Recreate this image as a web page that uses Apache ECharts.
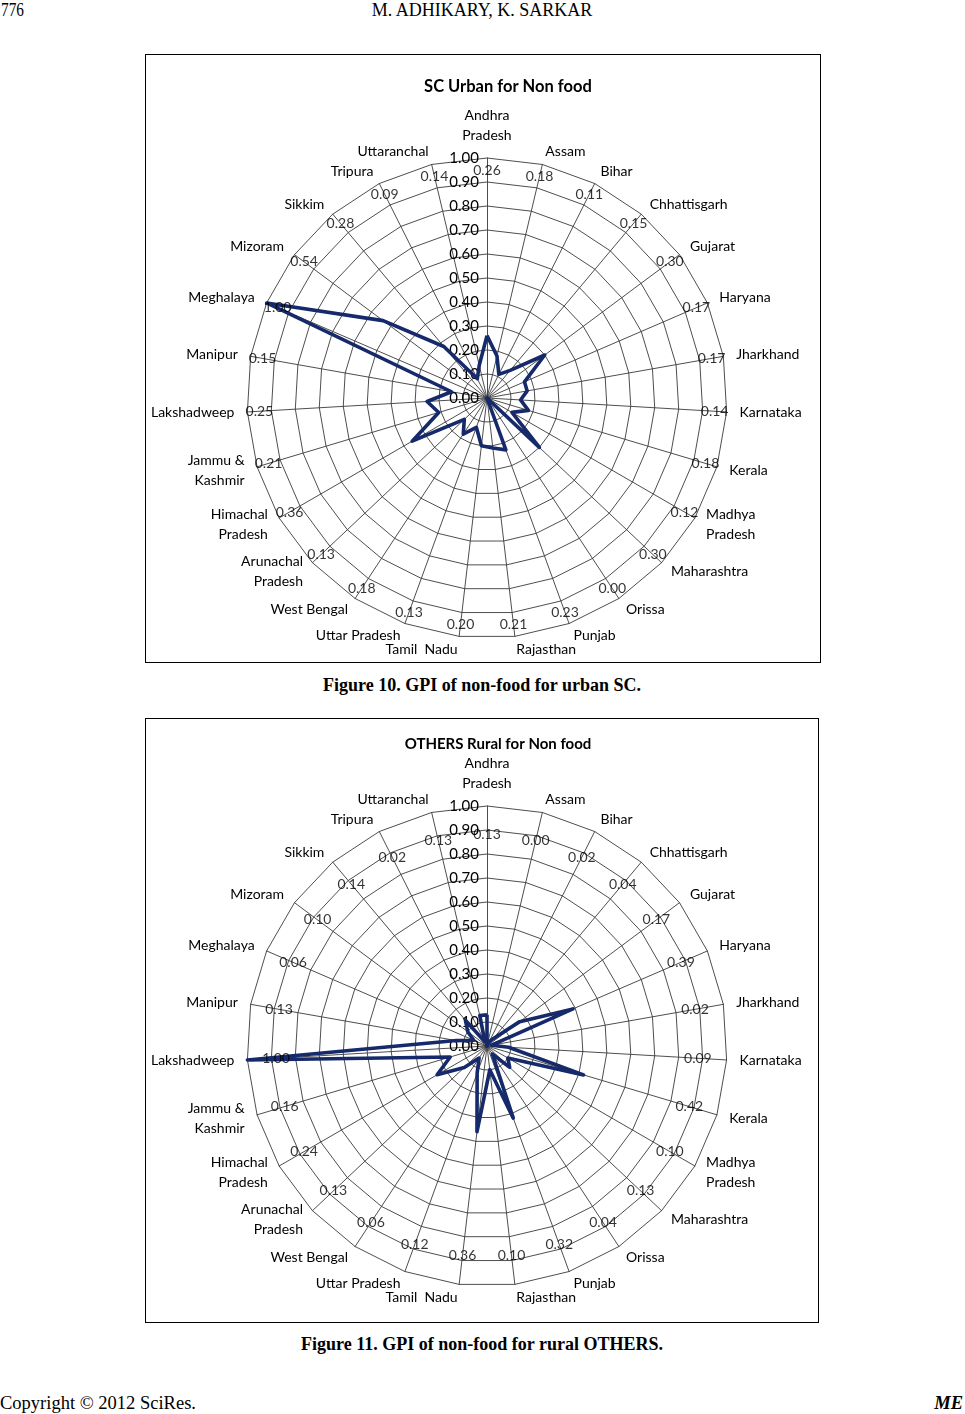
<!DOCTYPE html>
<html>
<head>
<meta charset="utf-8">
<script src="https://cdn.jsdelivr.net/npm/echarts@6/dist/echarts.min.js"></script>
<style>
  html, body { margin: 0; padding: 0; background: #fff; }
  body { width: 965px; height: 1414px; position: relative; overflow: hidden; font-family: "Liberation Serif", serif; color: #000; }
  .box { position: absolute; border: 1px solid #000; box-sizing: border-box; }
  .chart { position: absolute; left: 0; top: 0; right: 0; bottom: 0; }
  .txt { position: absolute; white-space: nowrap; }
</style>
</head>
<body>
<div class="txt" style="left:1px; top:0px; font-size:18px; transform:scaleX(0.85); transform-origin:left top;">776</div>
<div class="txt" style="left:482px; top:0px; font-size:18px; transform:translateX(-50%);">M. ADHIKARY, K. SARKAR</div>

<div class="box" style="left:145px; top:54px; width:676px; height:609px;"><div id="c1" class="chart"></div></div>
<div class="txt" style="left:482px; top:675px; font-size:18px; font-weight:bold; transform:translateX(-50%);">Figure 10. GPI of non-food for urban SC.</div>

<div class="box" style="left:145px; top:718px; width:674px; height:605px;"><div id="c2" class="chart"></div></div>
<div class="txt" style="left:482px; top:1334px; font-size:18px; font-weight:bold; transform:translateX(-50%);">Figure 11. GPI of non-food for rural OTHERS.</div>

<div class="txt" style="left:0px; top:1393px; font-size:18.5px;">Copyright © 2012 SciRes.</div>
<div class="txt" style="right:2px; top:1393px; font-size:18.5px; font-weight:bold; font-style:italic;">ME</div>

<script>
// ---------- data ----------
const categories = ['Andhra\nPradesh', 'Assam', 'Bihar', 'Chhattisgarh', 'Gujarat', 'Haryana', 'Jharkhand',
  'Karnataka', 'Kerala', 'Madhya\nPradesh', 'Maharashtra', 'Orissa', 'Punjab', 'Rajasthan', 'Tamil  Nadu',
  'Uttar Pradesh', 'West Bengal', 'Arunachal\nPradesh', 'Himachal\nPradesh', 'Jammu &\nKashmir',
  'Lakshadweep', 'Manipur', 'Meghalaya', 'Mizoram', 'Sikkim', 'Tripura', 'Uttaranchal'];

const scUrbanNonFood = [0.26, 0.18, 0.11, 0.15, 0.30, 0.17, 0.17, 0.14, 0.18, 0.12, 0.30, 0.00, 0.23, 0.21,
  0.20, 0.13, 0.18, 0.13, 0.36, 0.21, 0.25, 0.15, 1.00, 0.54, 0.28, 0.09, 0.14];

const othersRuralNonFood = [0.13, 0.00, 0.02, 0.04, 0.17, 0.39, 0.02, 0.09, 0.42, 0.10, 0.13, 0.04, 0.32, 0.10,
  0.36, 0.12, 0.06, 0.13, 0.24, 0.16, 1.00, 0.13, 0.06, 0.10, 0.14, 0.02, 0.13];

const tickLabels = ['0.00', '0.10', '0.20', '0.30', '0.40', '0.50', '0.60', '0.70', '0.80', '0.90', '1.00'];

const titles = ['SC Urban for Non food', 'OTHERS Rural for Non food'];

// ---------- build ----------
const FONT = 'Lato, "Open Sans", sans-serif';
const LINE = '#15296b';
const N = categories.length;
// ECharts radar runs counter-clockwise; reorder so the categories run clockwise from the top
const order = categories.map((_, j) => (N - j) % N);

function buildOption(title, values, cfg) {
  const indicator = order.map((k, j) => {
    const o = { name: categories[k], min: 0, max: 1 };
    if (j === 0) o.axisLabel = { show: true };
    return o;
  });
  return {
    animation: false,
    title: {
      text: title, left: cfg.titleX, top: cfg.titleY, textAlign: 'center',
      textStyle: { fontFamily: FONT, fontSize: cfg.titleSize, fontWeight: 'bold', color: '#000' }
    },
    radar: {
      center: cfg.center, radius: cfg.radius, startAngle: 90, shape: 'polygon',
      splitNumber: 10,
      axisName: { color: '#000', fontFamily: FONT, fontSize: 14, lineHeight: 20 },
      nameGap: 13,
      axisLine: { lineStyle: { color: '#3a3a3a', width: 0.9 } },
      splitLine: { lineStyle: { color: '#3a3a3a', width: 0.9 } },
      splitArea: { show: false },
      axisTick: { show: false },
      axisLabel: {
        show: false, fontFamily: FONT, fontSize: 15, color: '#000', margin: 8,
        showMinLabel: true, showMaxLabel: true,
        formatter: v => tickLabels[Math.round(v * 10)]
      },
      indicator: indicator
    },
    polar: { center: cfg.center, radius: cfg.radius },
    angleAxis: { type: 'value', min: 0, max: N, startAngle: 90, clockwise: true, show: false },
    radiusAxis: { type: 'value', min: 0, max: 1, show: false },
    series: [
      {
        type: 'radar',
        symbol: 'none',
        lineStyle: { color: LINE, width: 3.6 },
        data: [{ value: order.map(k => values[k]), name: title }]
      },
      {
        type: 'scatter',
        coordinateSystem: 'polar',
        symbolSize: 0,
        silent: true,
        data: values.map((v, i) => [cfg.labelR, i]),
        label: {
          show: true, position: 'inside', fontFamily: FONT, fontSize: 14, color: '#000',
          formatter: p => values[p.dataIndex].toFixed(2)
        }
      }
    ]
  };
}

const c1 = echarts.init(document.getElementById('c1'));
c1.setOption(buildOption(titles[0], scUrbanNonFood,
  { center: [341, 343], radius: 240, titleX: 357, titleY: 18, titleSize: 16.5, labelR: 0.95 }));

const c2 = echarts.init(document.getElementById('c2'));
c2.setOption(buildOption(titles[1], othersRuralNonFood,
  { center: [341, 327], radius: 240, titleX: 347, titleY: 13, titleSize: 15, labelR: 0.88 }));
</script>
</body>
</html>
